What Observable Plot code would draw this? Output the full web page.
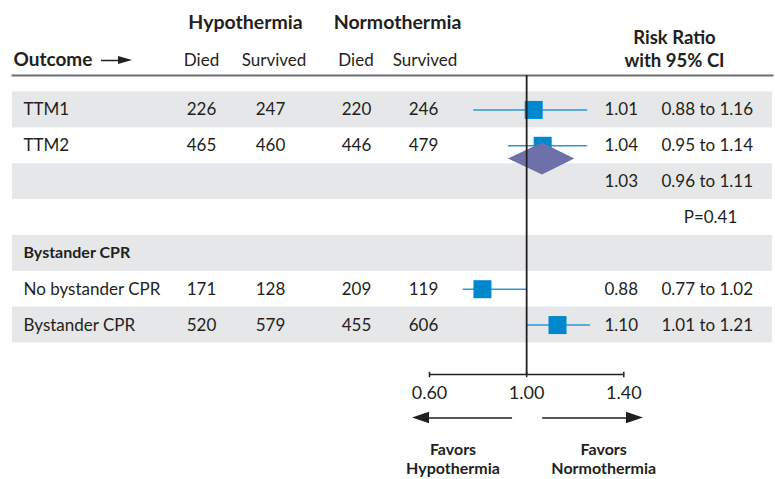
<!DOCTYPE html>
<html>
<head>
<meta charset="utf-8">
<script src="https://cdn.jsdelivr.net/npm/d3@7"></script>
<script src="https://cdn.jsdelivr.net/npm/@observablehq/plot@0.6"></script>
<style>
  body { margin: 0; background: #fff; }
  #chart svg { display: block; }
</style>
</head>
<body>
<div id="chart"></div>
<script>
// ---------------- DATA ----------------
const rowOrder = ["TTM1", "TTM2", "pooled", "p", "subgroup", "No bystander CPR", "Bystander CPR"];
const shadedRows = ["TTM1", "pooled", "subgroup", "Bystander CPR"];
const studies = ["TTM1", "TTM2", "No bystander CPR", "Bystander CPR"];
const hypoDied = [226, 465, 171, 520];
const hypoSurv = [247, 460, 128, 579];
const normoDied = [220, 446, 209, 455];
const normoSurv = [246, 479, 119, 606];
const rrText = ["1.01", "1.04", "0.88", "1.10"];
const ciText = ["0.88 to 1.16", "0.95 to 1.14", "0.77 to 1.02", "1.01 to 1.21"];
// point estimates and CI ends as drawn in the figure
const rrDrawn = [1.029, 1.066, 0.818, 1.127];
const loDrawn = [0.782, 0.925, 0.739, 1.003];
const hiDrawn = [1.251, 1.251, 1.000, 1.263];
const pooledRRText = "1.03";
const pooledCIText = "0.96 to 1.11";
const pooledDrawn = { lo: 0.925, est: 1.065, hi: 1.198 };
const pText = "P=0.41";
const subgroupTitle = "Bystander CPR";
const groupHeaders = ["Hypothermia", "Normothermia"];
const colHeaders = ["Died", "Survived", "Died", "Survived"];
const rrHeader = ["Risk Ratio", "with 95% CI"];
const outcomeHeader = "Outcome";
const axisTicks = [0.6, 1.0, 1.4];
const favorsLabels = ["Favors\nHypothermia", "Favors\nNormothermia"];

// ---------------- LAYOUT / STYLE ----------------
const W = 775, H = 479;
const ML = 12, MR = 3, MT = 75, MB = 105;
const ink = "#231f20";
const band = "#e6e7e8";
const boxBlue = "#0088cf";
const ciBlue = "#2a98d6";
const diamondFill = "#6e71a9";
const font = "Lato, 'Open Sans', sans-serif";
const colCenters = [201, 270, 356, 423];
const headCenters = [201, 273.5, 355.5, 424.5];
const groupCenters = [245, 397];
const favorsCenters = [452.5, 603.2];
const rrLeft = 604, ciLeft = 661, pCenter = 710, labelLeft = 23;
const axisRow = 7.378;      // y of the axis line (row units)
const tickUp = 0.06, tickDown = 0.09;
const arrowRow = 8.592;     // y of the direction arrows (row units)
const diamondRow = 1.369;   // centre of the pooled diamond (row units)
const diamondHalf = 0.446;  // half height of the diamond (row units)
const headHalf = 0.162;     // arrow head half height (row units)
const arrowsLeft = { tip: 0.530, base: 0.600, tail: 0.942 };
const arrowsRight = { tail: 1.066, base: 1.411, tip: 1.481 };
const outcomeArrow = { row: -1.3785, tail: -0.7503, base: -0.6804, tip: -0.6227, half: 0.112 };

const rowOf = r => rowOrder.indexOf(r);
const idx = d3.range(studies.length);
const yStudy = i => rowOf(studies[i]);

const leftText = (data, opts) => Plot.text(data, { frameAnchor: "left", fill: ink, fontSize: 17, ...opts });
const topText = (txt, opts) => Plot.text([txt], { frameAnchor: "top-left", lineAnchor: "middle", fill: ink, fontSize: 17, ...opts });
const triangle = (tipX, baseX, row, half) => [
  { x: tipX, y1: row, y2: row },
  { x: baseX, y1: row - half, y2: row + half }
];

const numCols = [hypoDied, hypoSurv, normoDied, normoSurv];

const diamondPts = [
  { x: pooledDrawn.lo, y1: diamondRow, y2: diamondRow },
  { x: pooledDrawn.est, y1: diamondRow - diamondHalf, y2: diamondRow + diamondHalf },
  { x: pooledDrawn.hi, y1: diamondRow, y2: diamondRow }
];

const marks = [
  // shaded bands
  Plot.barY(shadedRows, { y1: r => rowOf(r) - 0.5, y2: r => rowOf(r) + 0.5, fill: band }),
  // header rule
  Plot.frame({ anchor: "top", stroke: "#6d6e71", strokeWidth: 2 }),
  // headers
  ...groupHeaders.map((g, k) => topText(g, { dx: groupCenters[k] - ML, dy: -53, textAnchor: "middle", fontWeight: "bold", fontSize: 19.5 })),
  ...colHeaders.map((c, k) => topText(c, { dx: headCenters[k] - ML, dy: -15.4, textAnchor: "middle" })),
  topText(outcomeHeader, { dx: 1, dy: -16, textAnchor: "start", fontWeight: "bold", fontSize: 19 }),
  Plot.ruleY([outcomeArrow.row], { x1: outcomeArrow.tail, x2: outcomeArrow.base, stroke: ink, strokeWidth: 1.5 }),
  Plot.areaY(triangle(outcomeArrow.tip, outcomeArrow.base, outcomeArrow.row, outcomeArrow.half), { x: "x", y1: "y1", y2: "y2", fill: ink }),
  topText(rrHeader.join("\n"), { dx: 674 - ML, dy: -27.6, textAnchor: "middle", fontWeight: "bold", fontSize: 18.5, lineHeight: 1.26 }),
  // row labels
  leftText(idx, { y: yStudy, text: i => studies[i], dx: labelLeft - ML, textAnchor: "start" }),
  leftText([subgroupTitle], { y: () => rowOf("subgroup"), text: d => d, dx: labelLeft - ML, textAnchor: "start", fontWeight: "bold", fontSize: 16 }),
  // counts
  ...numCols.map((col, k) => leftText(idx, { y: yStudy, text: i => String(col[i]), dx: colCenters[k] - ML, textAnchor: "middle" })),
  // risk ratio text
  leftText(idx, { y: yStudy, text: i => rrText[i], dx: rrLeft - ML, textAnchor: "start" }),
  leftText(idx, { y: yStudy, text: i => ciText[i], dx: ciLeft - ML, textAnchor: "start" }),
  leftText([pooledRRText], { y: () => rowOf("pooled"), text: d => d, dx: rrLeft - ML, textAnchor: "start" }),
  leftText([pooledCIText], { y: () => rowOf("pooled"), text: d => d, dx: ciLeft - ML, textAnchor: "start" }),
  leftText([pText], { y: () => rowOf("p"), text: d => d, dx: pCenter - ML, textAnchor: "middle" }),
  // CI lines and boxes
  Plot.ruleY(idx, { y: yStudy, x1: i => loDrawn[i], x2: i => hiDrawn[i], stroke: ciBlue, strokeWidth: 1.5 }),
  Plot.dot(idx, { y: yStudy, x: i => rrDrawn[i], symbol: "square", r: 10.16, fill: boxBlue, stroke: "none" }),
  // pooled diamond
  Plot.areaY(diamondPts, { x: "x", y1: "y1", y2: "y2", fill: diamondFill, curve: "linear" }),
  // axis
  Plot.ruleY([axisRow], { x1: axisTicks[0], x2: axisTicks[axisTicks.length - 1], stroke: ink, strokeWidth: 1.5 }),
  Plot.ruleX(axisTicks, { x: d => d, y1: axisRow - tickUp, y2: axisRow + tickDown, stroke: ink, strokeWidth: 1.5 }),
  Plot.text(axisTicks, { x: d => d, frameAnchor: "bottom", lineAnchor: "middle", dy: 19.2, text: d => d.toFixed(2), fontSize: 18, fill: ink }),
  // direction arrows
  Plot.ruleY([arrowRow], { x1: arrowsLeft.base, x2: arrowsLeft.tail, stroke: ink, strokeWidth: 1.4 }),
  Plot.ruleY([arrowRow], { x1: arrowsRight.tail, x2: arrowsRight.base, stroke: ink, strokeWidth: 1.4 }),
  Plot.areaY(triangle(arrowsLeft.tip, arrowsLeft.base, arrowRow, headHalf), { x: "x", y1: "y1", y2: "y2", fill: ink }),
  Plot.areaY(triangle(arrowsRight.tip, arrowsRight.base, arrowRow, headHalf), { x: "x", y1: "y1", y2: "y2", fill: ink }),
  ...favorsLabels.map((t, k) => Plot.text([t], {
    frameAnchor: "bottom-left", lineAnchor: "middle", dx: favorsCenters[k] - ML, dy: 83.95,
    textAnchor: "middle", fontWeight: "bold", fontSize: 16, lineHeight: 1.22, fill: ink
  })),
  // line of no effect (on top)
  Plot.ruleX([1], { stroke: ink, strokeWidth: 1.8 })
];

const chart = Plot.plot({
  width: W,
  height: H,
  marginLeft: ML,
  marginRight: MR,
  marginTop: MT,
  marginBottom: MB,
  style: { fontFamily: font, fontSize: "17px", color: ink, background: "#fff" },
  x: { domain: [0.6, 1.4], range: [429, 623.3], axis: null },
  y: { axis: null, domain: [-0.5, 6.5], range: [91.5, 342.5] },
  marks
});
document.getElementById("chart").appendChild(chart);
</script>
</body>
</html>
